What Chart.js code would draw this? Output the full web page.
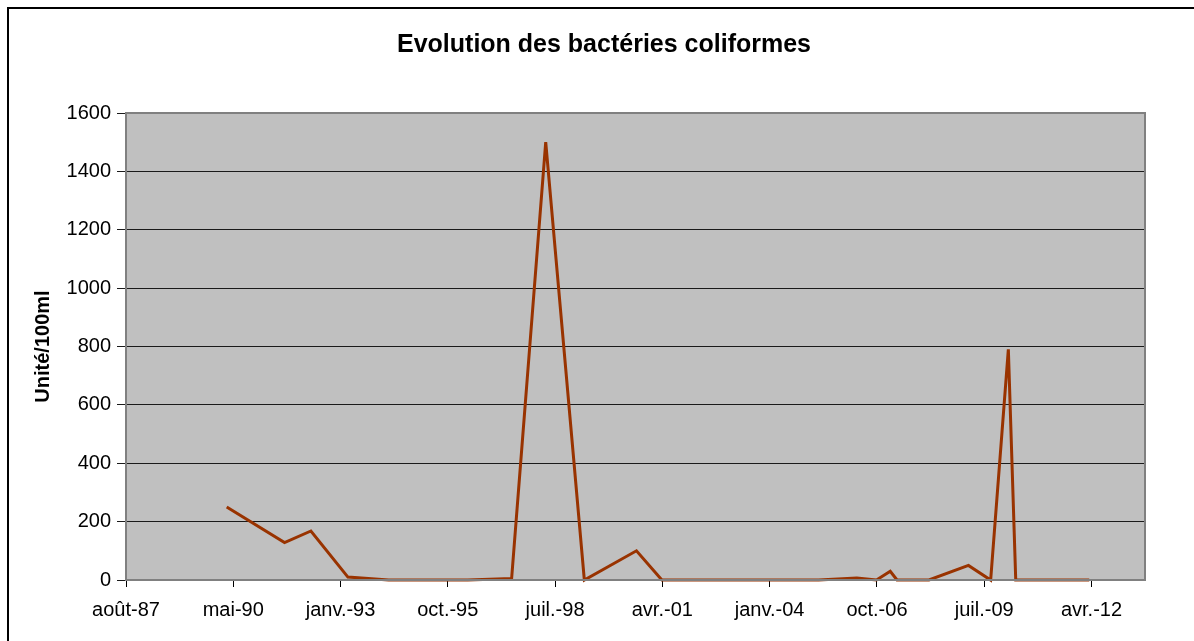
<!DOCTYPE html>
<html>
<head>
<meta charset="utf-8">
<script src="https://cdn.jsdelivr.net/npm/chart.js@4"></script>
<style>
  html, body { margin: 0; padding: 0; background: #fff; }
  #wrap { width: 1194px; height: 641px; position: relative; }
</style>
</head>
<body>
<div id="wrap"><canvas id="coliChart" width="1194" height="641"></canvas></div>
<script>
const sampleDates = [
  '1990-03-07', '1991-08-28', '1992-04-30', '1993-04-10', '1994-04-25',
  '1995-05-01', '1996-05-01', '1997-06-14', '1998-04-28', '1999-04-23',
  '2000-08-21', '2001-04-15', '2002-04-15', '2003-04-15', '2004-04-15',
  '2005-04-15', '2006-04-06', '2006-10-07', '2007-02-12', '2007-04-16',
  '2008-02-08', '2009-02-10', '2009-09-05', '2010-02-17', '2010-04-27',
  '2012-03-12'
];
const coliformValues = [
  250, 128, 168, 10, 0,
  0, 0, 5, 1500, 0,
  100, 0, 0, 0, 0,
  0, 7, 0, 30, 0,
  0, 50, 0, 790, 0,
  0
];

// Axis ticks (Excel style date axis, one tick every 1000 days)
const tickDates = [
  '1987-08-11', '1990-05-07', '1993-01-31', '1995-10-28', '1998-07-24',
  '2001-04-19', '2004-01-14', '2006-10-11', '2009-07-07', '2012-04-02'
];
const tickLabels = [
  'août-87', 'mai-90', 'janv.-93', 'oct.-95', 'juil.-98',
  'avr.-01', 'janv.-04', 'oct.-06', 'juil.-09', 'avr.-12'
];
const xMin = '1987-08-11';
const xMax = '2013-08-14';
const yTicks = [0, 200, 400, 600, 800, 1000, 1200, 1400, 1600];

const chartTitle = 'Evolution des bactéries coliformes';

// day number like Excel serial dates
function toSerial(iso) {
  const p = iso.split('-').map(Number);
  return (Date.UTC(p[0], p[1] - 1, p[2]) - Date.UTC(1899, 11, 30)) / 86400000;
}

const points = sampleDates.map((d, i) => ({ x: toSerial(d), y: coliformValues[i] }));

// grey plot area, frame, outer border and the title (centred on the whole frame)
const plotArea = {
  id: 'plotArea',
  beforeDraw(chart) {
    const { ctx, chartArea: a } = chart;
    ctx.save();
    ctx.fillStyle = '#c0c0c0';
    ctx.fillRect(a.left, a.top, a.right - a.left, a.bottom - a.top);
    ctx.restore();
  },
  afterDraw(chart) {
    const { ctx, chartArea: a } = chart;
    ctx.save();
    ctx.strokeStyle = '#808080';
    ctx.lineWidth = 2;
    ctx.strokeRect(a.left, a.top, a.right - a.left, a.bottom - a.top);
    // outer chart border (left + top only visible)
    ctx.strokeStyle = '#000';
    ctx.lineWidth = 2;
    ctx.beginPath();
    ctx.moveTo(8, 641);
    ctx.lineTo(8, 8);
    ctx.lineTo(1194, 8);
    ctx.stroke();
    // title
    ctx.fillStyle = '#000';
    ctx.font = 'bold 25px "Liberation Sans", Arial, sans-serif';
    ctx.textAlign = 'center';
    ctx.textBaseline = 'alphabetic';
    ctx.fillText(chartTitle, 604, 52);
    ctx.restore();
  }
};

Chart.defaults.font.family = '"Liberation Sans", Arial, sans-serif';
Chart.defaults.color = '#000';

new Chart(document.getElementById('coliChart').getContext('2d'), {
  type: 'line',
  data: {
    datasets: [{
      label: 'Bactéries coliformes',
      data: points,
      borderColor: '#993300',
      backgroundColor: '#993300',
      borderWidth: 3,
      pointRadius: 0,
      tension: 0,
      clip: 4
    }]
  },
  options: {
    responsive: false,
    animation: false,
    layout: { padding: { left: 0, right: 49, top: 113, bottom: 0 } },
    plugins: {
      legend: { display: false },
      tooltip: { enabled: false },
      title: { display: false }
    },
    scales: {
      x: {
        type: 'linear',
        min: toSerial(xMin),
        max: toSerial(xMax),
        afterBuildTicks: function(scale) {
          scale.ticks = tickDates.map(d => ({ value: toSerial(d) }));
        },
        afterFit: function(scale) {
          scale.height = 61;
        },
        ticks: {
          autoSkip: false,
          maxRotation: 0,
          padding: 11,
          font: { size: 20 },
          callback: function(value, index) {
            return tickLabels[index];
          }
        },
        grid: {
          drawOnChartArea: false,
          drawTicks: true,
          tickLength: 7,
          color: '#000'
        },
        border: { display: true, color: '#333', width: 2 }
      },
      y: {
        min: 0,
        max: 1600,
        afterBuildTicks: function(scale) {
          scale.ticks = yTicks.map(v => ({ value: v }));
        },
        afterFit: function(scale) {
          scale.width = 126;
        },
        ticks: {
          padding: 6,
          font: { size: 20 },
          callback: function(value) {
            return String(value);
          }
        },
        grid: {
          color: '#1a1a1a',
          lineWidth: 1,
          tickLength: 9
        },
        border: { display: true, color: '#808080', width: 2 },
        title: {
          display: true,
          text: 'Unité/100ml',
          font: { size: 20, weight: 'bold' },
          padding: { top: 31, bottom: 0 }
        }
      }
    }
  },
  plugins: [plotArea]
});
</script>
</body>
</html>
